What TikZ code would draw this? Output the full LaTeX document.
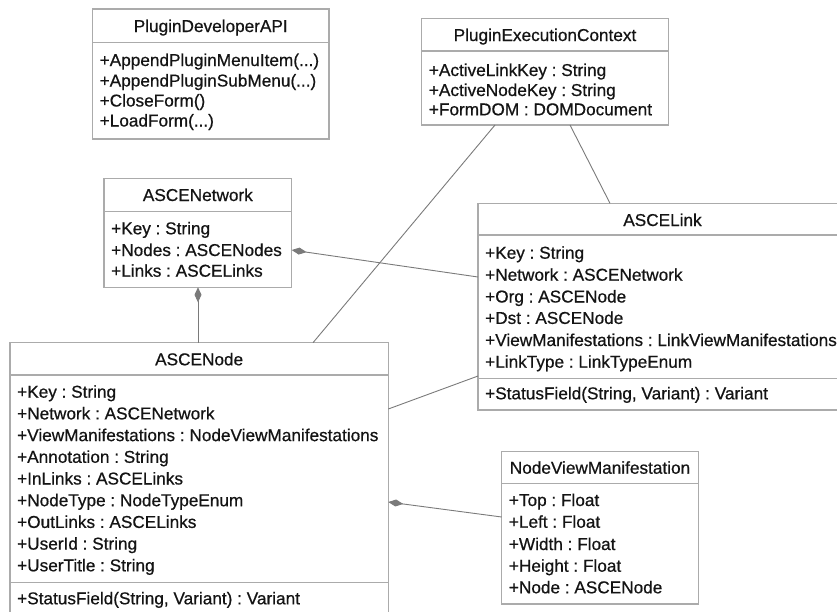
\documentclass[tikz,border=0pt]{standalone}
\usepackage{fontspec}
\setmainfont{Liberation Sans}[FakeBold=0.6]
\frenchspacing
\usetikzlibrary{arrows.meta,calc}

\definecolor{boxline}{HTML}{ABABAB}
\definecolor{linkline}{HTML}{7A7A7A}
\definecolor{txt}{HTML}{141414}

\tikzset{
  classbox/.style={draw=boxline, line width=1.2pt, fill=white, inner sep=0pt,
                   outer sep=0pt, anchor=north west},
  sepline/.style={draw=boxline, line width=1.2pt},
  umltext/.style={inner sep=0pt, text=txt, font=\fontsize{17.2}{20}\selectfont},
  member/.style={umltext, anchor=base west},
  classname/.style={umltext, anchor=base},
  assoc/.style={draw=linkline, line width=0.9pt},
  compo/.style={assoc, {Diamond[length=15pt,width=7pt,fill=linkline]}-},
}

\begin{document}
\begin{tikzpicture}[x=1pt,y=-1pt]
\useasboundingbox (0,0) rectangle (837,611);
\clip (0,0) rectangle (837,611);

% ---------- PluginDeveloperAPI ----------
\node[classbox, minimum width=236.5pt, minimum height=130pt] (pda) at (92.5,9) {};
\draw[sepline] ($(pda.north west)+(0,33.3)$) -- ($(pda.north east)+(0,33.3)$);
\node[classname] (pda-n) at ($(pda.north)+(0,23)$) {PluginDeveloperAPI};
\node[member] (pda-1) at ($(pda.north west)+(7,57)$) {+AppendPluginMenuItem(...)};
\node[member] (pda-2) at ($(pda.north west)+(7,77.5)$) {+AppendPluginSubMenu(...)};
\node[member] (pda-3) at ($(pda.north west)+(7,97.5)$) {+CloseForm()};
\node[member] (pda-4) at ($(pda.north west)+(7,117.5)$) {+LoadForm(...)};

% ---------- PluginExecutionContext ----------
\node[classbox, minimum width=246.6pt, minimum height=106.7pt] (pec) at (421.7,18.3) {};
\draw[sepline] ($(pec.north west)+(0,32.7)$) -- ($(pec.north east)+(0,32.7)$);
\node[classname] (pec-n) at ($(pec.north)+(0,22.7)$) {PluginExecutionContext};
\node[member] (pec-1) at ($(pec.north west)+(7,57.7)$) {+ActiveLinkKey : String};
\node[member] (pec-2) at ($(pec.north west)+(7,77.7)$) {+ActiveNodeKey : String};
\node[member] (pec-3) at ($(pec.north west)+(7,97)$) {+FormDOM : DOMDocument};

% ---------- ASCENetwork ----------
\node[classbox, minimum width=187.7pt, minimum height=109pt] (net) at (104,178.3) {};
\draw[sepline] ($(net.north west)+(0,33.4)$) -- ($(net.north east)+(0,33.4)$);
\node[classname] (net-n) at ($(net.north)+(0,22.7)$) {ASCENetwork};
\node[member] (net-1) at ($(net.north west)+(7,56)$) {+Key : String};
\node[member] (net-2) at ($(net.north west)+(7,77.7)$) {+Nodes : ASCENodes};
\node[member] (net-3) at ($(net.north west)+(7,98.4)$) {+Links : ASCELinks};

% ---------- ASCELink ----------
\node[classbox, minimum width=369pt, minimum height=206.7pt] (lnk) at (478,203.3) {};
\draw[sepline] ($(lnk.north west)+(0,31.7)$) -- ($(lnk.north east)+(0,31.7)$);
\draw[sepline] ($(lnk.north west)+(0,175)$) -- ($(lnk.north east)+(0,175)$);
\node[classname] (lnk-n) at ($(lnk.north)+(0,22.7)$) {ASCELink};
\node[member] (lnk-1) at ($(lnk.north west)+(7,55.4)$) {+Key : String};
\node[member] (lnk-2) at ($(lnk.north west)+(7,77.4)$) {+Network : ASCENetwork};
\node[member] (lnk-3) at ($(lnk.north west)+(7,99.2)$) {+Org : ASCENode};
\node[member] (lnk-4) at ($(lnk.north west)+(7,120.6)$) {+Dst : ASCENode};
\node[member] (lnk-5) at ($(lnk.north west)+(7,142.7)$) {+ViewManifestations : LinkViewManifestations};
\node[member] (lnk-6) at ($(lnk.north west)+(7,164.4)$) {+LinkType : LinkTypeEnum};
\node[member] (lnk-7) at ($(lnk.north west)+(7,196)$) {+StatusField(String, Variant) : Variant};

% ---------- ASCENode ----------
\node[classbox, minimum width=378.3pt, minimum height=300pt] (nd) at (10,342.7) {};
\draw[sepline] ($(nd.north west)+(0,32.3)$) -- ($(nd.north east)+(0,32.3)$);
\draw[sepline] ($(nd.north west)+(0,239.6)$) -- ($(nd.north east)+(0,239.6)$);
\node[classname] (nd-n) at ($(nd.north)+(0,22.6)$) {ASCENode};
\node[member] (nd-1) at ($(nd.north west)+(7,55)$) {+Key : String};
\node[member] (nd-2) at ($(nd.north west)+(7,76.7)$) {+Network : ASCENetwork};
\node[member] (nd-3) at ($(nd.north west)+(7,98.4)$) {+ViewManifestations : NodeViewManifestations};
\node[member] (nd-4) at ($(nd.north west)+(7,120.1)$) {+Annotation : String};
\node[member] (nd-5) at ($(nd.north west)+(7,141.8)$) {+InLinks : ASCELinks};
\node[member] (nd-6) at ($(nd.north west)+(7,163.5)$) {+NodeType : NodeTypeEnum};
\node[member] (nd-7) at ($(nd.north west)+(7,185.2)$) {+OutLinks : ASCELinks};
\node[member] (nd-8) at ($(nd.north west)+(7,206.9)$) {+UserId : String};
\node[member] (nd-9) at ($(nd.north west)+(7,228.6)$) {+UserTitle : String};
\node[member] (nd-10) at ($(nd.north west)+(7,261.6)$) {+StatusField(String, Variant) : Variant};

% ---------- NodeViewManifestation ----------
\node[classbox, minimum width=196.6pt, minimum height=152.3pt] (nvm) at (501.7,451.7) {};
\draw[sepline] ($(nvm.north west)+(0,31.6)$) -- ($(nvm.north east)+(0,31.6)$);
\node[classname] (nvm-n) at ($(nvm.north)+(0,22)$) {NodeViewManifestation};
\node[member] (nvm-1) at ($(nvm.north west)+(7,54.3)$) {+Top : Float};
\node[member] (nvm-2) at ($(nvm.north west)+(7,76)$) {+Left : Float};
\node[member] (nvm-3) at ($(nvm.north west)+(7,98.3)$) {+Width : Float};
\node[member] (nvm-4) at ($(nvm.north west)+(7,120)$) {+Height : Float};
\node[member] (nvm-5) at ($(nvm.north west)+(7,141.6)$) {+Node : ASCENode};

% ---------- connectors ----------
\draw[compo] ($(net.north east)+(0,71.7)$) -- ($(lnk.north west)+(0,73.7)$);
\draw[compo] ($(net.south west)+(94,0)$) -- ($(nd.north west)+(188,0)$);
\draw[assoc] ($(pec.south west)+(73.3,0)$) -- ($(nd.north west)+(303,0)$);
\draw[assoc] ($(pec.south west)+(148.3,0)$) -- ($(lnk.north west)+(132,0)$);
\draw[assoc] ($(nd.north east)+(0,66.3)$) -- ($(lnk.north west)+(0,172.7)$);
\draw[compo] ($(nd.north east)+(0,159.3)$) -- ($(nvm.north west)+(0,65.3)$);
\end{tikzpicture}
\end{document}
